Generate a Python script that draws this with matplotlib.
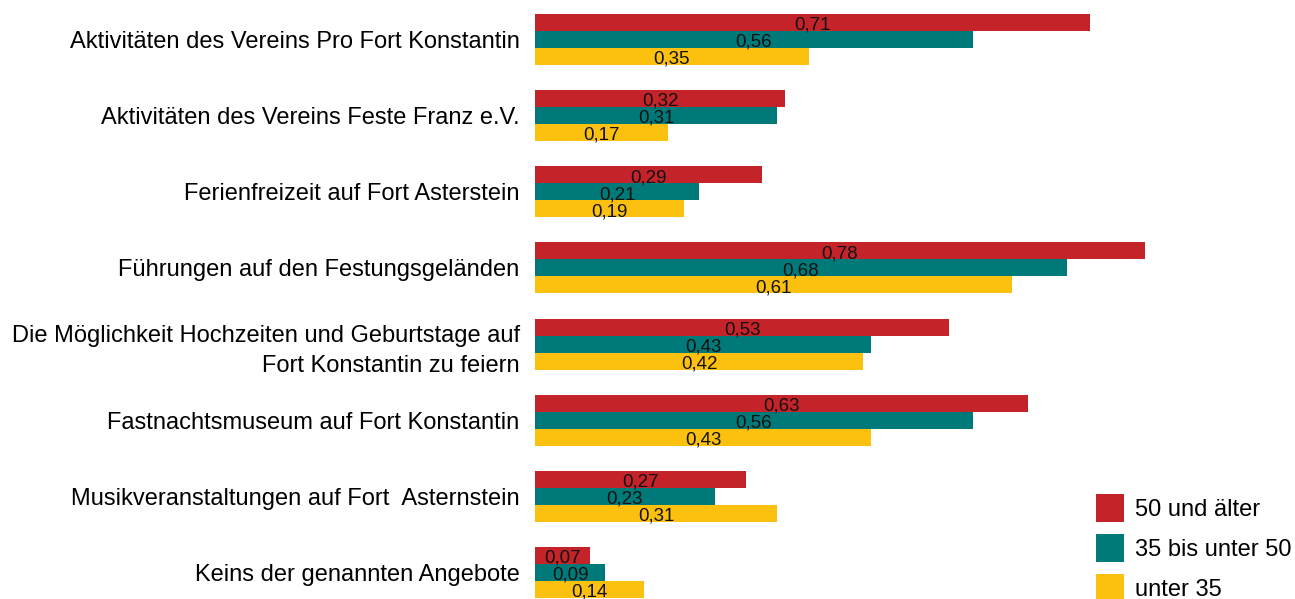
import matplotlib.pyplot as plt
import numpy as np

plt.rcParams['font.family'] = ['Liberation Sans', 'DejaVu Sans']

categories = [
    'Aktivitäten des Vereins Pro Fort Konstantin',
    'Aktivitäten des Vereins Feste Franz e.V.',
    'Ferienfreizeit auf Fort Asterstein',
    'Führungen auf den Festungsgeländen',
    'Die Möglichkeit Hochzeiten und Geburtstage auf\nFort Konstantin zu feiern',
    'Fastnachtsmuseum auf Fort Konstantin',
    'Musikveranstaltungen auf Fort  Asternstein',
    'Keins der genannten Angebote',
]
series_names = ['50 und älter', '35 bis unter 50', 'unter 35']
vals_50plus = [0.71, 0.32, 0.29, 0.78, 0.53, 0.63, 0.27, 0.07]
vals_35_50 = [0.56, 0.31, 0.21, 0.68, 0.43, 0.56, 0.23, 0.09]
vals_u35 = [0.35, 0.17, 0.19, 0.61, 0.42, 0.43, 0.31, 0.14]
colors = ['#C4232A', '#007A78', '#FCC10F']

W, H = 1295, 599
fig = plt.figure(figsize=(W / 100, H / 100), dpi=100)
ax = fig.add_axes([535 / W, 0, 1 - 535 / W, 1])

y = np.arange(len(categories))
h = 17 / 76.14
offsets = [-h, 0, h]
for vals, off, col, name in zip([vals_50plus, vals_35_50, vals_u35], offsets, colors, series_names):
    bars = ax.barh(y + off, vals, height=h, color=col, label=name)
    for b, v in zip(bars, vals):
        ax.annotate(f'{v:.2f}'.replace('.', ','), (v / 2, b.get_y() + h / 2),
                    xytext=(0, -2), textcoords='offset points',
                    ha='center', va='center', fontsize=13.5, color='#111111')

ax.set_xlim(0, (W - 535) / 782)
ax.set_ylim((H - 39.5) / 76.14, -39.5 / 76.14)
ax.set_yticks(y)
ax.set_yticklabels(categories, fontsize=17, linespacing=1.5)
ax.tick_params(axis='y', length=0, pad=11)
ax.set_xticks([])
for s in ax.spines.values():
    s.set_visible(False)

fig.legend(loc='upper left', bbox_to_anchor=(1096 / W, 1 - 494 / H), frameon=False,
           fontsize=17, handlelength=1.19, handleheight=1.45, handletextpad=0.45,
           labelspacing=0.5, borderpad=0, borderaxespad=0)

fig.savefig('out.png', dpi=100)
